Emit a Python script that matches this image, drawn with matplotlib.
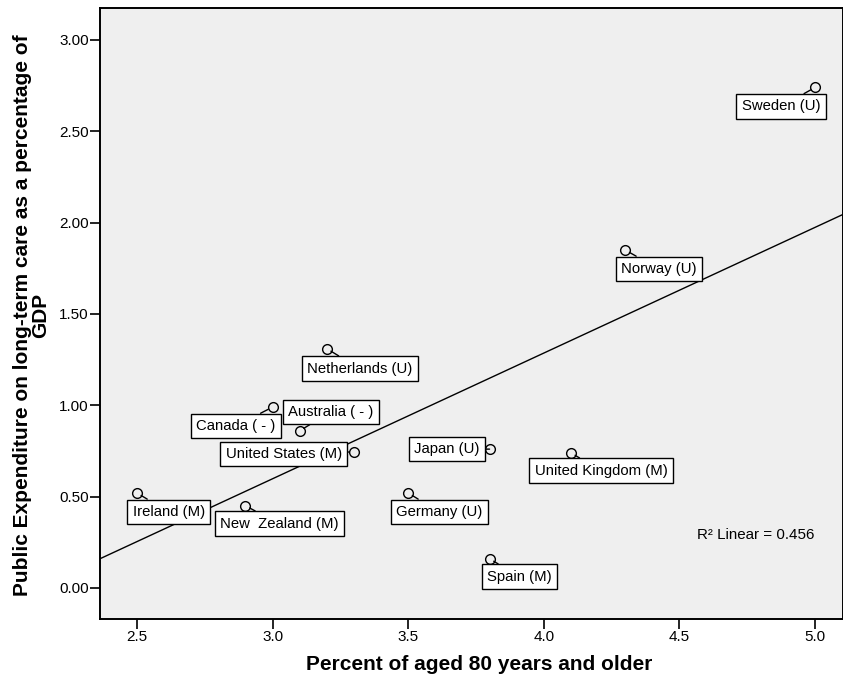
import numpy as np
import matplotlib.pyplot as plt

plt.rcParams['font.family'] = ['Liberation Sans', 'DejaVu Sans']

countries = ['Sweden (U)', 'Norway (U)', 'Netherlands (U)', 'Canada ( - )',
             'Australia ( - )', 'United States (M)', 'Japan (U)',
             'United Kingdom (M)', 'Ireland (M)', 'New  Zealand (M)',
             'Germany (U)', 'Spain (M)']
aged80 = [5.0, 4.3, 3.2, 3.0, 3.1, 3.3, 3.8, 4.1, 2.5, 2.9, 3.5, 3.8]
ltc_gdp = [2.74, 1.85, 1.31, 0.99, 0.86, 0.745, 0.76, 0.74, 0.52, 0.45, 0.52, 0.16]
r2_linear = 0.456

# label box offsets from each point, in pixels
offsets = [(-34, -19), (34, -19), (33, -20), (-37, -19), (31, 19), (-70, -2),
           (-43, 0), (30, -18), (32, -19), (34, -18), (31, -19), (30, -18)]

fig = plt.figure(figsize=(8.43, 6.86), dpi=100)
ax = fig.add_axes([100 / 843, 1 - 619 / 686, 743 / 843, 611 / 686])
ax.set_facecolor('#efefef')

x = np.array(aged80)
y = np.array(ltc_gdp)
xlim = (2.364, 5.103)
slope, intercept = np.polyfit(x, y, 1)
xs = np.array(xlim)
ax.plot(xs, slope * xs + intercept, color='black', lw=1, zorder=2)

ax.plot(x, y, 'o', mfc='none', mec='black', ms=7, mew=1, zorder=3)

for name, xi, yi, off in zip(countries, x, y, offsets):
    ax.annotate(name, (xi, yi), xytext=off, textcoords='offset pixels',
                ha='center', va='center', fontsize=10.7,
                bbox=dict(boxstyle='square,pad=0.36', fc='white', ec='black', lw=1),
                arrowprops=dict(arrowstyle='-', color='black', lw=1,
                                shrinkA=0, shrinkB=3.5),
                zorder=4)

ax.text(0.803, 0.1375, 'R\u00b2 Linear = %.3f' % r2_linear, transform=ax.transAxes,
        fontsize=10.9, ha='left', va='center')

ax.set_xlim(xlim)
ax.set_ylim(-0.17, 3.175)
ax.set_xticks([2.5, 3.0, 3.5, 4.0, 4.5, 5.0])
ax.set_xticklabels(['2.5', '3.0', '3.5', '4.0', '4.5', '5.0'])
ax.set_yticks([0, 0.5, 1.0, 1.5, 2.0, 2.5, 3.0])
ax.set_yticklabels(['0.00', '0.50', '1.00', '1.50', '2.00', '2.50', '3.00'])
ax.tick_params(direction='out', length=7, width=1.2, labelsize=11, color='black', pad=1)

for s in ax.spines.values():
    s.set_linewidth(1.4)
    s.set_color('black')

ax.set_xlabel('Percent of aged 80 years and older', fontsize=15, fontweight='bold',
              va='center')
ax.xaxis.set_label_coords(0.51, -0.0737)
ax.set_ylabel('Public Expenditure on long-term care as a percentage of\nGDP',
              fontsize=15, fontweight='bold', linespacing=0.95, va='center')
ax.yaxis.set_label_coords(-0.092, 0.497)

fig.savefig('out.png', dpi=100)
